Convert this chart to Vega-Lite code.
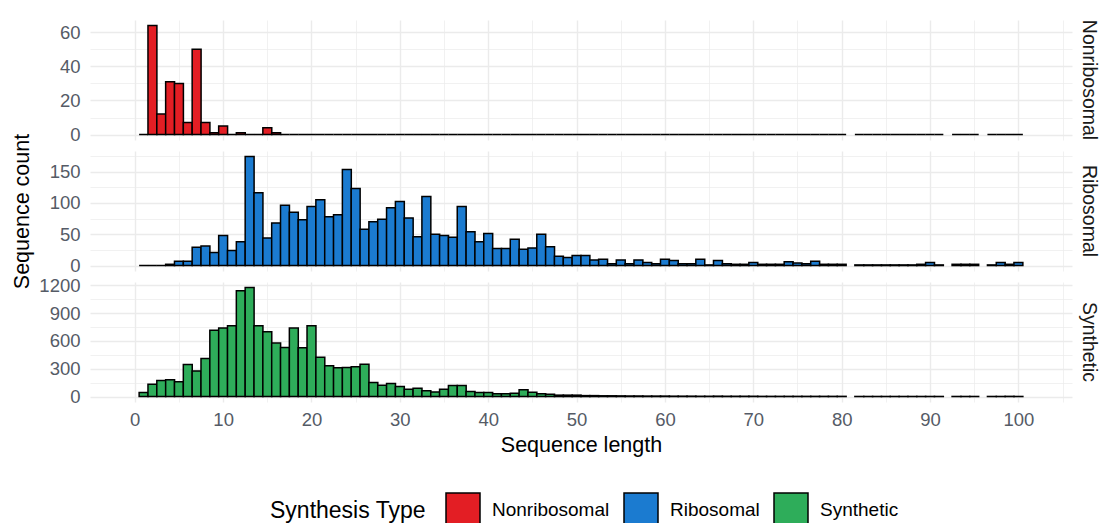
{
  "$schema": "https://vega.github.io/schema/vega-lite/v6.json",
  "padding": {"left": 11, "top": 19, "right": 0, "bottom": 0},
  "bounds": "flush",
  "spacing": 11,
  "resolve": {"scale": {"x": "independent", "y": "independent", "color": "shared"}},
  "config": {
    "font": "Liberation Sans",
    "view": {"stroke": null},
    "axis": {
      "labelFont": "Liberation Sans", "labelFontSize": 18.5, "labelColor": "#555b66",
      "titleFont": "Liberation Sans", "titleFontSize": 21.5, "titleColor": "#000000", "titleFontWeight": "normal",
      "domain": false, "ticks": false, "tickSize": 0, "gridColor": "#EBEBEB", "labelPadding": 10
    },
    "title": {"font": "Liberation Sans", "fontSize": 19.5, "fontWeight": "normal", "color": "#1A1A1A"},
    "legend": {
      "orient": "none", "legendX": 180, "legendY": 472, "direction": "horizontal",
      "titleOrient": "left", "titleFontSize": 23, "titleFontWeight": "normal", "titleColor": "#000000", "titleFont": "Liberation Sans",
      "labelFontSize": 19, "labelColor": "#000000", "labelFont": "Liberation Sans",
      "symbolType": "square", "symbolSize": 1156, "symbolStrokeColor": "#000000", "symbolStrokeWidth": 1.5,
      "symbolFillOpacity": 1, "labelOffset": 11, "columnPadding": 11, "titlePadding": 19
    }
  },
  "datasets": {
    "hist": [
      {"type":"Nonribosomal","len":1,"n":0},{"type":"Nonribosomal","len":2,"n":64},{"type":"Nonribosomal","len":3,"n":12},{"type":"Nonribosomal","len":4,"n":31},{"type":"Nonribosomal","len":5,"n":30},{"type":"Nonribosomal","len":6,"n":7},{"type":"Nonribosomal","len":7,"n":50},{"type":"Nonribosomal","len":8,"n":7},{"type":"Nonribosomal","len":9,"n":1},{"type":"Nonribosomal","len":10,"n":5},
      {"type":"Nonribosomal","len":11,"n":0},{"type":"Nonribosomal","len":12,"n":1},{"type":"Nonribosomal","len":13,"n":0},{"type":"Nonribosomal","len":14,"n":0},{"type":"Nonribosomal","len":15,"n":4},{"type":"Nonribosomal","len":16,"n":1},{"type":"Nonribosomal","len":17,"n":0},{"type":"Nonribosomal","len":18,"n":0},{"type":"Nonribosomal","len":19,"n":0},{"type":"Nonribosomal","len":20,"n":0},
      {"type":"Nonribosomal","len":21,"n":0},{"type":"Nonribosomal","len":22,"n":0},{"type":"Nonribosomal","len":23,"n":0},{"type":"Nonribosomal","len":24,"n":0},{"type":"Nonribosomal","len":25,"n":0},{"type":"Nonribosomal","len":26,"n":0},{"type":"Nonribosomal","len":27,"n":0},{"type":"Nonribosomal","len":28,"n":0},{"type":"Nonribosomal","len":29,"n":0},{"type":"Nonribosomal","len":30,"n":0},
      {"type":"Nonribosomal","len":31,"n":0},{"type":"Nonribosomal","len":32,"n":0},{"type":"Nonribosomal","len":33,"n":0},{"type":"Nonribosomal","len":34,"n":0},{"type":"Nonribosomal","len":35,"n":0},{"type":"Nonribosomal","len":36,"n":0},{"type":"Nonribosomal","len":37,"n":0},{"type":"Nonribosomal","len":38,"n":0},{"type":"Nonribosomal","len":39,"n":0},{"type":"Nonribosomal","len":40,"n":0},
      {"type":"Nonribosomal","len":41,"n":0},{"type":"Nonribosomal","len":42,"n":0},{"type":"Nonribosomal","len":43,"n":0},{"type":"Nonribosomal","len":44,"n":0},{"type":"Nonribosomal","len":45,"n":0},{"type":"Nonribosomal","len":46,"n":0},{"type":"Nonribosomal","len":47,"n":0},{"type":"Nonribosomal","len":48,"n":0},{"type":"Nonribosomal","len":49,"n":0},{"type":"Nonribosomal","len":50,"n":0},
      {"type":"Nonribosomal","len":51,"n":0},{"type":"Nonribosomal","len":52,"n":0},{"type":"Nonribosomal","len":53,"n":0},{"type":"Nonribosomal","len":54,"n":0},{"type":"Nonribosomal","len":55,"n":0},{"type":"Nonribosomal","len":56,"n":0},{"type":"Nonribosomal","len":57,"n":0},{"type":"Nonribosomal","len":58,"n":0},{"type":"Nonribosomal","len":59,"n":0},{"type":"Nonribosomal","len":60,"n":0},
      {"type":"Nonribosomal","len":61,"n":0},{"type":"Nonribosomal","len":62,"n":0},{"type":"Nonribosomal","len":63,"n":0},{"type":"Nonribosomal","len":64,"n":0},{"type":"Nonribosomal","len":65,"n":0},{"type":"Nonribosomal","len":66,"n":0},{"type":"Nonribosomal","len":67,"n":0},{"type":"Nonribosomal","len":68,"n":0},{"type":"Nonribosomal","len":69,"n":0},{"type":"Nonribosomal","len":70,"n":0},
      {"type":"Nonribosomal","len":71,"n":0},{"type":"Nonribosomal","len":72,"n":0},{"type":"Nonribosomal","len":73,"n":0},{"type":"Nonribosomal","len":74,"n":0},{"type":"Nonribosomal","len":75,"n":0},{"type":"Nonribosomal","len":76,"n":0},{"type":"Nonribosomal","len":77,"n":0},{"type":"Nonribosomal","len":78,"n":0},{"type":"Nonribosomal","len":79,"n":0},{"type":"Nonribosomal","len":80,"n":0},
      {"type":"Nonribosomal","len":82,"n":0},{"type":"Nonribosomal","len":83,"n":0},{"type":"Nonribosomal","len":84,"n":0},{"type":"Nonribosomal","len":85,"n":0},{"type":"Nonribosomal","len":86,"n":0},{"type":"Nonribosomal","len":87,"n":0},{"type":"Nonribosomal","len":88,"n":0},{"type":"Nonribosomal","len":89,"n":0},{"type":"Nonribosomal","len":90,"n":0},
      {"type":"Nonribosomal","len":91,"n":0},{"type":"Nonribosomal","len":93,"n":0},{"type":"Nonribosomal","len":94,"n":0},{"type":"Nonribosomal","len":95,"n":0},{"type":"Nonribosomal","len":97,"n":0},{"type":"Nonribosomal","len":98,"n":0},{"type":"Nonribosomal","len":99,"n":0},{"type":"Nonribosomal","len":100,"n":0},

      {"type":"Ribosomal","len":1,"n":0},{"type":"Ribosomal","len":2,"n":0},{"type":"Ribosomal","len":3,"n":0},{"type":"Ribosomal","len":4,"n":2},{"type":"Ribosomal","len":5,"n":7},{"type":"Ribosomal","len":6,"n":7},{"type":"Ribosomal","len":7,"n":29},{"type":"Ribosomal","len":8,"n":31},{"type":"Ribosomal","len":9,"n":21},{"type":"Ribosomal","len":10,"n":48},
      {"type":"Ribosomal","len":11,"n":24},{"type":"Ribosomal","len":12,"n":38},{"type":"Ribosomal","len":13,"n":174},{"type":"Ribosomal","len":14,"n":116},{"type":"Ribosomal","len":15,"n":44},{"type":"Ribosomal","len":16,"n":68},{"type":"Ribosomal","len":17,"n":96},{"type":"Ribosomal","len":18,"n":85},{"type":"Ribosomal","len":19,"n":73},{"type":"Ribosomal","len":20,"n":94},
      {"type":"Ribosomal","len":21,"n":105},{"type":"Ribosomal","len":22,"n":78},{"type":"Ribosomal","len":23,"n":81},{"type":"Ribosomal","len":24,"n":153},{"type":"Ribosomal","len":25,"n":123},{"type":"Ribosomal","len":26,"n":58},{"type":"Ribosomal","len":27,"n":70},{"type":"Ribosomal","len":28,"n":74},{"type":"Ribosomal","len":29,"n":92},{"type":"Ribosomal","len":30,"n":102},
      {"type":"Ribosomal","len":31,"n":76},{"type":"Ribosomal","len":32,"n":46},{"type":"Ribosomal","len":33,"n":110},{"type":"Ribosomal","len":34,"n":50},{"type":"Ribosomal","len":35,"n":48},{"type":"Ribosomal","len":36,"n":45},{"type":"Ribosomal","len":37,"n":94},{"type":"Ribosomal","len":38,"n":54},{"type":"Ribosomal","len":39,"n":38},{"type":"Ribosomal","len":40,"n":51},
      {"type":"Ribosomal","len":41,"n":27},{"type":"Ribosomal","len":42,"n":27},{"type":"Ribosomal","len":43,"n":42},{"type":"Ribosomal","len":44,"n":26},{"type":"Ribosomal","len":45,"n":28},{"type":"Ribosomal","len":46,"n":50},{"type":"Ribosomal","len":47,"n":30},{"type":"Ribosomal","len":48,"n":15},{"type":"Ribosomal","len":49,"n":13},{"type":"Ribosomal","len":50,"n":16},
      {"type":"Ribosomal","len":51,"n":16},{"type":"Ribosomal","len":52,"n":9},{"type":"Ribosomal","len":53,"n":10},{"type":"Ribosomal","len":54,"n":3},{"type":"Ribosomal","len":55,"n":9},{"type":"Ribosomal","len":56,"n":3},{"type":"Ribosomal","len":57,"n":9},{"type":"Ribosomal","len":58,"n":5},{"type":"Ribosomal","len":59,"n":3},{"type":"Ribosomal","len":60,"n":10},
      {"type":"Ribosomal","len":61,"n":8},{"type":"Ribosomal","len":62,"n":3},{"type":"Ribosomal","len":63,"n":3},{"type":"Ribosomal","len":64,"n":10},{"type":"Ribosomal","len":65,"n":1},{"type":"Ribosomal","len":66,"n":8},{"type":"Ribosomal","len":67,"n":3},{"type":"Ribosomal","len":68,"n":2},{"type":"Ribosomal","len":69,"n":2},{"type":"Ribosomal","len":70,"n":5},
      {"type":"Ribosomal","len":71,"n":2},{"type":"Ribosomal","len":72,"n":2},{"type":"Ribosomal","len":73,"n":2},{"type":"Ribosomal","len":74,"n":6},{"type":"Ribosomal","len":75,"n":4},{"type":"Ribosomal","len":76,"n":3},{"type":"Ribosomal","len":77,"n":7},{"type":"Ribosomal","len":78,"n":2},{"type":"Ribosomal","len":79,"n":2},{"type":"Ribosomal","len":80,"n":2},
      {"type":"Ribosomal","len":82,"n":1},{"type":"Ribosomal","len":83,"n":1},{"type":"Ribosomal","len":84,"n":1},{"type":"Ribosomal","len":85,"n":1},{"type":"Ribosomal","len":86,"n":1},{"type":"Ribosomal","len":87,"n":1},{"type":"Ribosomal","len":88,"n":1},{"type":"Ribosomal","len":89,"n":2},{"type":"Ribosomal","len":90,"n":5},
      {"type":"Ribosomal","len":91,"n":1},{"type":"Ribosomal","len":93,"n":2},{"type":"Ribosomal","len":94,"n":2},{"type":"Ribosomal","len":95,"n":2},{"type":"Ribosomal","len":97,"n":1},{"type":"Ribosomal","len":98,"n":5},{"type":"Ribosomal","len":99,"n":2},{"type":"Ribosomal","len":100,"n":5},

      {"type":"Synthetic","len":1,"n":43},{"type":"Synthetic","len":2,"n":133},{"type":"Synthetic","len":3,"n":173},{"type":"Synthetic","len":4,"n":180},{"type":"Synthetic","len":5,"n":159},{"type":"Synthetic","len":6,"n":346},{"type":"Synthetic","len":7,"n":277},{"type":"Synthetic","len":8,"n":411},{"type":"Synthetic","len":9,"n":717},{"type":"Synthetic","len":10,"n":739},
      {"type":"Synthetic","len":11,"n":764},{"type":"Synthetic","len":12,"n":1142},{"type":"Synthetic","len":13,"n":1178},{"type":"Synthetic","len":14,"n":764},{"type":"Synthetic","len":15,"n":699},{"type":"Synthetic","len":16,"n":577},{"type":"Synthetic","len":17,"n":530},{"type":"Synthetic","len":18,"n":739},{"type":"Synthetic","len":19,"n":526},{"type":"Synthetic","len":20,"n":764},
      {"type":"Synthetic","len":21,"n":425},{"type":"Synthetic","len":22,"n":332},{"type":"Synthetic","len":23,"n":310},{"type":"Synthetic","len":24,"n":314},{"type":"Synthetic","len":25,"n":321},{"type":"Synthetic","len":26,"n":350},{"type":"Synthetic","len":27,"n":151},{"type":"Synthetic","len":28,"n":123},{"type":"Synthetic","len":29,"n":141},{"type":"Synthetic","len":30,"n":108},
      {"type":"Synthetic","len":31,"n":79},{"type":"Synthetic","len":32,"n":90},{"type":"Synthetic","len":33,"n":62},{"type":"Synthetic","len":34,"n":50},{"type":"Synthetic","len":35,"n":79},{"type":"Synthetic","len":36,"n":119},{"type":"Synthetic","len":37,"n":119},{"type":"Synthetic","len":38,"n":54},{"type":"Synthetic","len":39,"n":43},{"type":"Synthetic","len":40,"n":43},
      {"type":"Synthetic","len":41,"n":29},{"type":"Synthetic","len":42,"n":29},{"type":"Synthetic","len":43,"n":36},{"type":"Synthetic","len":44,"n":72},{"type":"Synthetic","len":45,"n":47},{"type":"Synthetic","len":46,"n":29},{"type":"Synthetic","len":47,"n":25},{"type":"Synthetic","len":48,"n":15},{"type":"Synthetic","len":49,"n":15},{"type":"Synthetic","len":50,"n":15},
      {"type":"Synthetic","len":51,"n":10},{"type":"Synthetic","len":52,"n":10},{"type":"Synthetic","len":53,"n":8},{"type":"Synthetic","len":54,"n":8},{"type":"Synthetic","len":55,"n":7},{"type":"Synthetic","len":56,"n":6},{"type":"Synthetic","len":57,"n":6},{"type":"Synthetic","len":58,"n":5},{"type":"Synthetic","len":59,"n":5},{"type":"Synthetic","len":60,"n":5},
      {"type":"Synthetic","len":61,"n":4},{"type":"Synthetic","len":62,"n":4},{"type":"Synthetic","len":63,"n":4},{"type":"Synthetic","len":64,"n":3},{"type":"Synthetic","len":65,"n":3},{"type":"Synthetic","len":66,"n":4},{"type":"Synthetic","len":67,"n":3},{"type":"Synthetic","len":68,"n":3},{"type":"Synthetic","len":69,"n":3},{"type":"Synthetic","len":70,"n":3},
      {"type":"Synthetic","len":71,"n":2},{"type":"Synthetic","len":72,"n":2},{"type":"Synthetic","len":73,"n":2},{"type":"Synthetic","len":74,"n":2},{"type":"Synthetic","len":75,"n":2},{"type":"Synthetic","len":76,"n":2},{"type":"Synthetic","len":77,"n":2},{"type":"Synthetic","len":78,"n":2},{"type":"Synthetic","len":79,"n":2},{"type":"Synthetic","len":80,"n":2},
      {"type":"Synthetic","len":82,"n":1},{"type":"Synthetic","len":83,"n":1},{"type":"Synthetic","len":84,"n":1},{"type":"Synthetic","len":85,"n":1},{"type":"Synthetic","len":86,"n":1},{"type":"Synthetic","len":87,"n":1},{"type":"Synthetic","len":88,"n":1},{"type":"Synthetic","len":89,"n":1},{"type":"Synthetic","len":90,"n":1},
      {"type":"Synthetic","len":91,"n":1},{"type":"Synthetic","len":93,"n":1},{"type":"Synthetic","len":94,"n":1},{"type":"Synthetic","len":95,"n":1},{"type":"Synthetic","len":97,"n":1},{"type":"Synthetic","len":98,"n":1},{"type":"Synthetic","len":99,"n":2},{"type":"Synthetic","len":100,"n":1}
    ]
  },
  "vconcat": [
    {
      "width": 982, "height": 120,
      "title": {"text": "Nonribosomal", "orient": "right", "anchor": "middle", "offset": 6},
      "data": {"name": "hist"},
      "transform": [{"filter": "datum.type === 'Nonribosomal'"}],
      "mark": {"type": "bar", "width": 8.93, "stroke": "#000000", "strokeWidth": 1.5, "fillOpacity": 1},
      "encoding": {
        "x": {"field": "len", "type": "quantitative", "scale": {"domain": [-4.5, 105.5], "nice": false, "zero": false},
          "axis": {"values": [0,5,10,15,20,25,30,35,40,45,50,55,60,65,70,75,80,85,90,95,100,105], "labels": false, "title": null,
            "gridWidth": {"condition": {"test": "datum.value % 10 !== 0", "value": 0.7}, "value": 1.4}}},
        "y": {"field": "n", "type": "quantitative", "scale": {"domain": [-3.2, 67.2], "nice": false, "zero": false},
          "axis": {"values": [0,10,20,30,40,50,60], "labelExpr": "datum.value % 20 === 0 ? datum.label : ''", "title": null, "labelOverlap": false,
            "gridWidth": {"condition": {"test": "datum.value % 20 !== 0", "value": 0.7}, "value": 1.4}}},
        "y2": {"datum": 0},
        "color": {"field": "type", "type": "nominal", "title": "Synthesis Type",
          "scale": {"domain": ["Nonribosomal", "Ribosomal", "Synthetic"], "range": ["#E31E24", "#1B7BD0", "#2EAD5A"]}}
      }
    },
    {
      "width": 982, "height": 120,
      "title": {"text": "Ribosomal", "orient": "right", "anchor": "middle", "offset": 6},
      "data": {"name": "hist"},
      "transform": [{"filter": "datum.type === 'Ribosomal'"}],
      "mark": {"type": "bar", "width": 8.93, "stroke": "#000000", "strokeWidth": 1.5, "fillOpacity": 1},
      "encoding": {
        "x": {"field": "len", "type": "quantitative", "scale": {"domain": [-4.5, 105.5], "nice": false, "zero": false},
          "axis": {"values": [0,5,10,15,20,25,30,35,40,45,50,55,60,65,70,75,80,85,90,95,100,105], "labels": false, "title": null,
            "gridWidth": {"condition": {"test": "datum.value % 10 !== 0", "value": 0.7}, "value": 1.4}}},
        "y": {"field": "n", "type": "quantitative", "scale": {"domain": [-8.7, 182.7], "nice": false, "zero": false},
          "axis": {"values": [0,25,50,75,100,125,150,175], "labelExpr": "datum.value % 50 === 0 ? datum.label : ''", "title": "Sequence count", "titlePadding": 16, "labelOverlap": false,
            "gridWidth": {"condition": {"test": "datum.value % 50 !== 0", "value": 0.7}, "value": 1.4}}},
        "y2": {"datum": 0},
        "color": {"field": "type", "type": "nominal", "title": "Synthesis Type",
          "scale": {"domain": ["Nonribosomal", "Ribosomal", "Synthetic"], "range": ["#E31E24", "#1B7BD0", "#2EAD5A"]}}
      }
    },
    {
      "width": 982, "height": 120,
      "title": {"text": "Synthetic", "orient": "right", "anchor": "middle", "offset": 6},
      "data": {"name": "hist"},
      "transform": [{"filter": "datum.type === 'Synthetic'"}],
      "mark": {"type": "bar", "width": 8.93, "stroke": "#000000", "strokeWidth": 1.5, "fillOpacity": 1},
      "encoding": {
        "x": {"field": "len", "type": "quantitative", "scale": {"domain": [-4.5, 105.5], "nice": false, "zero": false},
          "axis": {"values": [0,5,10,15,20,25,30,35,40,45,50,55,60,65,70,75,80,85,90,95,100,105], "labelExpr": "datum.value % 10 === 0 ? datum.label : ''", "labelOverlap": false, "labelFlush": false, "labelPadding": 8,
            "title": "Sequence length", "titlePadding": 6,
            "gridWidth": {"condition": {"test": "datum.value % 10 !== 0", "value": 0.7}, "value": 1.4}}},
        "y": {"field": "n", "type": "quantitative", "scale": {"domain": [-59, 1237], "nice": false, "zero": false},
          "axis": {"values": [0,150,300,450,600,750,900,1050,1200], "format": "d", "labelExpr": "datum.value % 300 === 0 ? datum.label : ''", "title": null, "labelOverlap": false,
            "gridWidth": {"condition": {"test": "datum.value % 300 !== 0", "value": 0.7}, "value": 1.4}}},
        "y2": {"datum": 0},
        "color": {"field": "type", "type": "nominal", "title": "Synthesis Type",
          "scale": {"domain": ["Nonribosomal", "Ribosomal", "Synthetic"], "range": ["#E31E24", "#1B7BD0", "#2EAD5A"]}}
      }
    }
  ]
}
